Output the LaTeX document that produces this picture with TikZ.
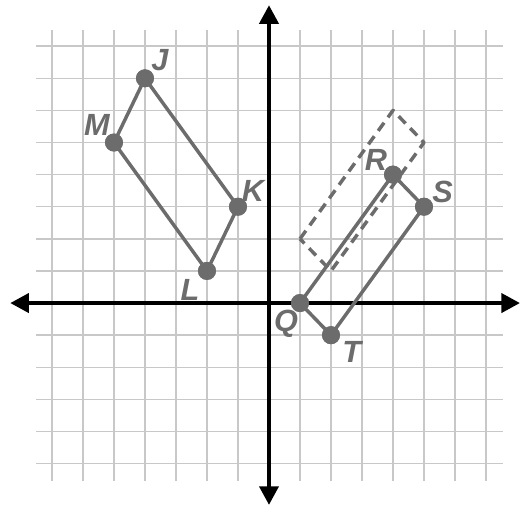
\documentclass[tikz,border=0pt]{standalone}
\usepackage{fontspec}
\setmainfont{Liberation Sans}
\usetikzlibrary{arrows.meta}
\usetikzlibrary{positioning}

\definecolor{shapegray}{RGB}{108,108,108}
\definecolor{gridgray}{RGB}{200,200,200}

\tikzset{
  gridline/.style={draw=gridgray,line width=1.1pt},
  axis/.style={line width=3.4pt,-{Triangle[length=14pt,width=14pt]}},
  shapeline/.style={draw=shapegray,line width=2.6pt,line join=round},
  imageline/.style={shapeline,dashed,dash pattern=on 7.5pt off 5pt},
  dot/.style={circle,fill=shapegray,inner sep=0pt,minimum size=13.5pt},
  lbl/.style={text=shapegray,font=\fontsize{23}{23}\selectfont\bfseries\itshape,inner sep=0pt}
}

\begin{document}
\begin{tikzpicture}[x=23.25pt,y=24.08pt]
\useasboundingbox (-8.677,-6.324) rectangle (8.226,9.439);

% grid
\foreach \i in {-7,...,7}
  \draw[gridline] (\i,-5.55) -- (\i,8.5);
\foreach \j in {-5,...,8}
  \draw[gridline] (-7.5,\j) -- (7.55,\j);

% axes
\coordinate (O) at (0,0);
\coordinate (xl) at (-8.35,0);
\coordinate (xr) at (8.1,0);
\coordinate (yt) at (0,9.28);
\coordinate (yb) at (0,-6.29);
\draw[axis] (O) -- (xr);
\draw[axis] (O) -- (xl);
\draw[axis] (O) -- (yt);
\draw[axis] (O) -- (yb);

% JKLM
\node[dot] (J) at (-4,7) {};
\node[dot] (K) at (-1,3) {};
\node[dot] (L) at (-2,1) {};
\node[dot] (M) at (-5,5) {};
\draw[shapeline] (J.center) -- (K.center) -- (L.center) -- (M.center) -- cycle;

% QRST and its image
\coordinate (Q2) at (1,2);
\coordinate (R2) at (4,6);
\coordinate (S2) at (5,5);
\coordinate (T2) at (2,1);
\draw[imageline] (Q2) -- (R2) -- (S2) -- (T2) -- cycle;
\node[dot] (Q) at (1,0) {};
\node[dot] (R) at (4,4) {};
\node[dot] (S) at (5,3) {};
\node[dot] (T) at (2,-1) {};
\draw[shapeline] (Q.center) -- (R.center) -- (S.center) -- (T.center) -- cycle;
\foreach \p in {J,K,L,M,Q,R,S,T}
  \node[dot] at (\p) {};

% labels
\node[lbl] (Jl) at (-3.52,7.57) {J};
\node[lbl] (Ml) at (-5.55,5.55) {M};
\node[lbl] (Kl) at (-0.52,3.5) {K};
\node[lbl] (Ll) at (-2.55,0.4) {L};
\node[lbl] (Ql) at (0.55,-0.65) {Q};
\node[lbl] (Rl) at (3.45,4.47) {R};
\node[lbl] (Sl) at (5.6,3.47) {S};
\node[lbl] (Tl) at (2.67,-1.52) {T};
\end{tikzpicture}
\end{document}
